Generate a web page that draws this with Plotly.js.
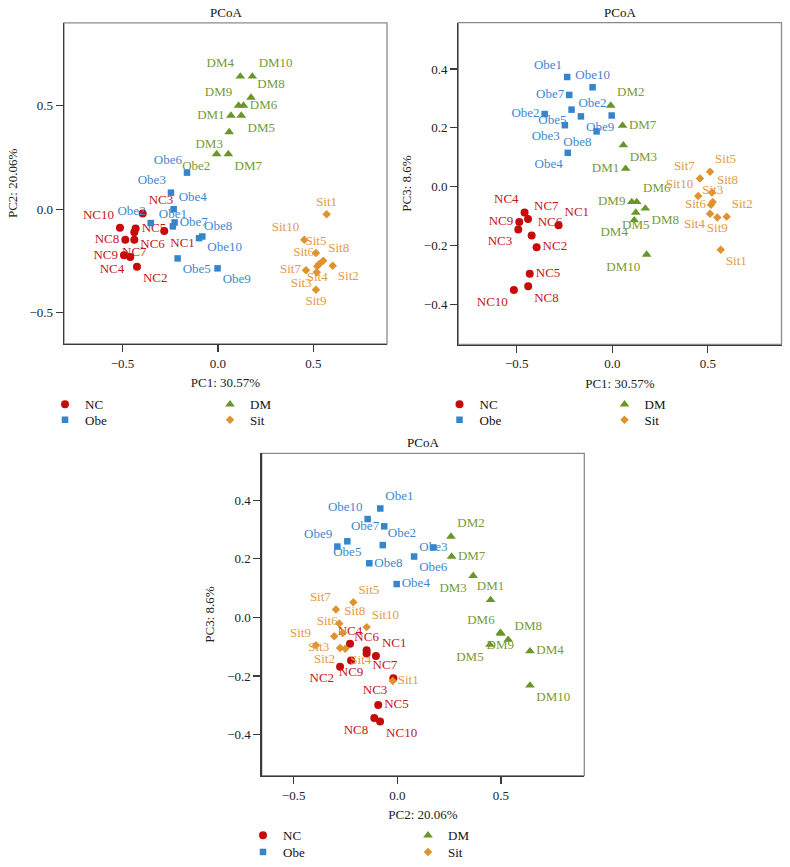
<!DOCTYPE html>
<html>
<head>
<meta charset="utf-8">
<script src="https://cdn.plot.ly/plotly-3.0.1.min.js"></script>
<style>html,body{margin:0;padding:0;background:#fff}#chart{width:790px;height:867px}</style>
</head>
<body>
<div id="chart"></div>
<script>
// ================= DATA =================
// Panel 1: PC1 (x) vs PC2 (y)
const p1_NC_lab = ['NC3','NC10','NC5','NC6','NC1','NC8','NC7','NC9','NC4','NC2'];
const p1_NC_x   = [-0.394,-0.513,-0.431,-0.438,-0.281,-0.485,-0.438,-0.492,-0.459,-0.424];
const p1_NC_y   = [-0.021,-0.090,-0.093,-0.112,-0.106,-0.148,-0.148,-0.223,-0.231,-0.278];

const p1_Obe_lab = ['Obe6','Obe3','Obe4','Obe2','Obe7','Obe1','Obe8','Obe10','Obe5','Obe9'];
const p1_Obe_x   = [-0.162,-0.246,-0.232,-0.352,-0.227,-0.236,-0.099,-0.082,-0.211,-0.002];
const p1_Obe_y   = [0.177,0.080,0.000,-0.067,-0.064,-0.083,-0.140,-0.132,-0.238,-0.286];

const p1_DM_lab = ['DM4','DM10','DM8','DM9','DM6','DM1','DM5','DM3','Obe2','DM7'];
const p1_DM_x   = [0.117,0.180,0.173,0.108,0.134,0.068,0.122,0.059,-0.007,0.054];
const p1_DM_y   = [0.642,0.642,0.540,0.501,0.501,0.453,0.453,0.373,0.267,0.267];

const p1_Sit_lab = ['Sit1','Sit10','Sit5','Sit6','Sit8','Sit4','Sit2','Sit7','Sit3','Sit9'];
const p1_Sit_x   = [0.569,0.452,0.513,0.530,0.551,0.520,0.601,0.461,0.517,0.513];
const p1_Sit_y   = [-0.024,-0.148,-0.212,-0.265,-0.249,-0.276,-0.273,-0.295,-0.305,-0.390];

// Panel 2: PC1 (x) vs PC3 (y)
const p2_NC_lab = ['NC4','NC7','NC9','NC3','NC6','NC1','NC2','NC5','NC8','NC10'];
const p2_NC_x   = [-0.459,-0.441,-0.487,-0.492,-0.422,-0.281,-0.396,-0.432,-0.440,-0.515];
const p2_NC_y   = [-0.088,-0.110,-0.120,-0.146,-0.166,-0.131,-0.206,-0.296,-0.339,-0.352];

const p2_Obe_lab = ['Obe1','Obe10','Obe7','Obe2','Obe2','Obe5','Obe3','Obe9','Obe8','Obe4'];
const p2_Obe_x   = [-0.236,-0.103,-0.225,-0.354,-0.003,-0.213,-0.248,-0.164,-0.082,-0.233];
const p2_Obe_y   = [0.373,0.338,0.312,0.247,0.242,0.262,0.209,0.239,0.188,0.115];

const p2_DM_lab = ['DM2','DM7','DM3','DM1','DM6','DM9','DM8','DM5','DM4','DM10'];
const p2_DM_x   = [-0.008,0.054,0.058,0.070,0.128,0.102,0.173,0.123,0.115,0.180];
const p2_DM_y   = [0.276,0.208,0.141,0.061,-0.052,-0.052,-0.074,-0.088,-0.114,-0.231];

const p2_Sit_lab = ['Sit5','Sit7','Sit8','Sit3','Sit10','Sit2','Sit6','Sit4','Sit9','Sit1'];
const p2_Sit_x   = [0.512,0.459,0.522,0.526,0.450,0.599,0.517,0.512,0.550,0.568];
const p2_Sit_y   = [0.051,0.028,-0.020,-0.052,-0.032,-0.102,-0.062,-0.092,-0.105,-0.215];

// Panel 3: PC2 (x) vs PC3 (y)
const p3_NC_lab = ['NC4','NC6','NC7','NC1','NC9','NC2','NC3','NC5','NC8','NC10'];
const p3_NC_x   = [-0.228,-0.148,-0.148,-0.103,-0.223,-0.276,-0.019,-0.092,-0.111,-0.083];
const p3_NC_y   = [-0.090,-0.112,-0.123,-0.132,-0.147,-0.168,-0.208,-0.299,-0.343,-0.355];

const p3_Obe_lab = ['Obe1','Obe10','Obe7','Obe2','Obe9','Obe5','Obe8','Obe3','Obe6','Obe4'];
const p3_Obe_x   = [-0.082,-0.143,-0.063,-0.070,-0.289,-0.241,-0.135,0.174,0.081,-0.003];
const p3_Obe_y   = [0.372,0.336,0.311,0.247,0.242,0.260,0.185,0.239,0.208,0.114];

const p3_DM_lab = ['DM2','DM7','DM3','DM1','DM6','DM9','DM8','DM5','DM4','DM10'];
const p3_DM_x   = [0.259,0.262,0.366,0.450,0.500,0.497,0.535,0.447,0.640,0.640];
const p3_DM_y   = [0.276,0.208,0.142,0.060,-0.055,-0.052,-0.076,-0.093,-0.115,-0.232];

const p3_Sit_lab = ['Sit5','Sit7','Sit8','Sit10','Sit6','Sit3','Sit9','Sit2','Sit4','Sit1'];
const p3_Sit_x   = [-0.212,-0.296,-0.280,-0.148,-0.263,-0.304,-0.392,-0.276,-0.251,-0.022];
const p3_Sit_y   = [0.052,0.027,-0.021,-0.033,-0.053,-0.064,-0.095,-0.104,-0.107,-0.217];

const groupNames = ['NC','Obe','DM','Sit'];
const axisTitles = [['PC1: 30.57%','PC2: 20.06%'],['PC1: 30.57%','PC3: 8.6%'],['PC2: 20.06%','PC3: 8.6%']];

// ================= STYLE (label placement, colours, sizes) =================
const TL='top left',TC='top center',TR='top right',ML='middle left',MC='middle center',MR='middle right',BL='bottom left',BC='bottom center',BR='bottom right';
const p1_NC_pos  = [TR,TL,MR,BR,BR,ML,BC,ML,BL,BR];
const p1_Obe_pos = [TL,TL,TR,TL,MR,TC,TR,BR,BR,BR];
const p1_DM_pos  = [TL,TR,TR,TL,MR,ML,BR,BL,BL,BR];
const p1_Sit_pos = [TC,TL,TC,TL,TR,BC,BR,ML,BL,BC];
const p2_NC_pos  = [TL,TR,ML,BL,TR,TR,MR,MR,BR,BL];
const p2_Obe_pos = [TL,TC,ML,ML,TL,BL,BL,BR,BL,BL];
const p2_DM_pos  = [TR,MR,BR,ML,TR,ML,BR,BC,BL,BL];
const p2_Sit_pos = [TR,TL,TR,TC,TL,TR,ML,BL,BC,BR];
const p3_NC_pos  = [TC,TC,BR,TR,BC,BL,BL,MR,BL,BR];
const p3_Obe_pos = [TR,TL,ML,TR,TL,BC,MR,MC,BR,MR];
const p3_DM_pos  = [TR,MR,BL,TC,TL,BC,TR,BL,MR,BR];
const p3_Sit_pos = [TR,TL,TR,TR,TL,BL,TL,BL,BR,MR];

const FONT = 'Liberation Serif, DejaVu Serif, serif';
const MARKER_COLOR = {NC:'#c60b0b', Obe:'#3585cc', DM:'#6a9629', Sit:'#e0922f'};
const TEXT_COLOR   = {NC:'#c41616', Obe:'#3f88cf', DM:'#789a35', Sit:'#e49a45'};
const SYMBOL = {NC:'circle', Obe:'square', DM:'triangle-up', Sit:'diamond'};
const SIZE = {NC:8, Obe:6.5, DM:8.5, Sit:6.5};
const W = 790, H = 867;

const panels = [
  {xa:'x',  ya:'y',  legends:['legend','legend2'],
   g:{NC:[p1_NC_x,p1_NC_y,p1_NC_lab,p1_NC_pos], Obe:[p1_Obe_x,p1_Obe_y,p1_Obe_lab,p1_Obe_pos], DM:[p1_DM_x,p1_DM_y,p1_DM_lab,p1_DM_pos], Sit:[p1_Sit_x,p1_Sit_y,p1_Sit_lab,p1_Sit_pos]}},
  {xa:'x2', ya:'y2', legends:['legend3','legend4'],
   g:{NC:[p2_NC_x,p2_NC_y,p2_NC_lab,p2_NC_pos], Obe:[p2_Obe_x,p2_Obe_y,p2_Obe_lab,p2_Obe_pos], DM:[p2_DM_x,p2_DM_y,p2_DM_lab,p2_DM_pos], Sit:[p2_Sit_x,p2_Sit_y,p2_Sit_lab,p2_Sit_pos]}},
  {xa:'x3', ya:'y3', legends:['legend5','legend6'],
   g:{NC:[p3_NC_x,p3_NC_y,p3_NC_lab,p3_NC_pos], Obe:[p3_Obe_x,p3_Obe_y,p3_Obe_lab,p3_Obe_pos], DM:[p3_DM_x,p3_DM_y,p3_DM_lab,p3_DM_pos], Sit:[p3_Sit_x,p3_Sit_y,p3_Sit_lab,p3_Sit_pos]}}
];
const legendRow = {NC:0, DM:0, Obe:1, Sit:1};

const traces = [];
panels.forEach(p => {
  groupNames.forEach(name => {
    const [x, y, lab, pos] = p.g[name];
    traces.push({
      type:'scatter', mode:'markers+text', x:x, y:y, text:lab, textposition:pos,
      xaxis:p.xa, yaxis:p.ya, name:name, showlegend:false, cliponaxis:false, hoverinfo:'skip',
      marker:{symbol:SYMBOL[name], size:SIZE[name], color:MARKER_COLOR[name], line:{width:0}},
      textfont:{family:FONT, size:13, color:TEXT_COLOR[name]}
    });
  });
  // legend entries (no data)
  groupNames.forEach(name => {
    traces.push({
      type:'scatter', mode:'markers', x:[null], y:[null], xaxis:p.xa, yaxis:p.ya,
      name:name, showlegend:true, legend:p.legends[legendRow[name]], hoverinfo:'skip',
      marker:{symbol:SYMBOL[name], size:SIZE[name], color:MARKER_COLOR[name], line:{width:0}}
    });
  });
});

function axis(domain, range, dtick, title, anchor, isX) {
  return {
    domain:domain, range:range, dtick:dtick, tick0:0, tickformat:'.1f', anchor:anchor,
    showgrid:false, zeroline:false, showline:true, linecolor:'#3a3a3a', linewidth:1.3,
    ticks:'outside', ticklen:7, tickwidth:1.2, tickcolor:'#3a3a3a',
    tickfont:{family:FONT, size:13, color:'#222'},
    title:{text:title, font:{family:FONT, size:13, color:'#222'}, standoff: isX ? 8 : 9},
    fixedrange:true, automargin:false
  };
}
const dom = {
  p1x:[64/W, 387/W],     p1y:[1-345/H, 1-23/H],
  p2x:[458.3/W, 781.5/W], p2y:[1-345.7/H, 1-22.7/H],
  p3x:[261.7/W, 584.3/W], p3y:[1-778.3/H, 1-455/H]
};

function leg(markerX, rowY) {
  return {orientation:'h', x:(markerX-20)/W, xanchor:'left', y:1-rowY/H, yanchor:'middle',
    entrywidth:120, entrywidthmode:'pixels', font:{family:FONT, size:13, color:'#111'},
    bgcolor:'rgba(0,0,0,0)', borderwidth:0, itemclick:false, itemdoubleclick:false};
}

const annotations = [];
const shapes = [];
[['x','y'],['x2','y2'],['x3','y3']].forEach(([xa,ya]) => {
  annotations.push({xref:xa+' domain', yref:ya+' domain', x:0.5, y:1, xanchor:'center', yanchor:'bottom',
    yshift:1, text:'PCoA', showarrow:false, font:{family:FONT, size:13, color:'#111'}});
  shapes.push({type:'rect', xref:xa+' domain', yref:ya+' domain', x0:0, x1:1, y0:0, y1:1,
    line:{color:'#8a8a8a', width:1.3}, layer:'below'});
});

const layout = {
  width:W, height:H, margin:{l:0, r:0, t:0, b:0},
  paper_bgcolor:'#ffffff', plot_bgcolor:'#ffffff',
  font:{family:FONT, size:13, color:'#222'},
  showlegend:true, hovermode:false,
  xaxis:  axis(dom.p1x, [-0.806, 0.885], 0.5, axisTitles[0][0], 'y',  true),
  yaxis:  axis(dom.p1y, [-0.651, 0.901], 0.5, axisTitles[0][1], 'x',  false),
  xaxis2: axis(dom.p2x, [-0.806, 0.886], 0.5, axisTitles[1][0], 'y2', true),
  yaxis2: axis(dom.p2y, [-0.537, 0.558], 0.2, axisTitles[1][1], 'x2', false),
  xaxis3: axis(dom.p3x, [-0.654, 0.902], 0.5, axisTitles[2][0], 'y3', true),
  yaxis3: axis(dom.p3y, [-0.540, 0.560], 0.2, axisTitles[2][1], 'x3', false),
  legend:  leg(65, 405.7),  legend2: leg(65, 421.3),
  legend3: leg(459.5, 405.7), legend4: leg(459.5, 421.3),
  legend5: leg(263, 838.3), legend6: leg(263, 855),
  annotations:annotations, shapes:shapes
};

Plotly.newPlot('chart', traces, layout, {staticPlot:true, displayModeBar:false});
</script>
</body>
</html>
